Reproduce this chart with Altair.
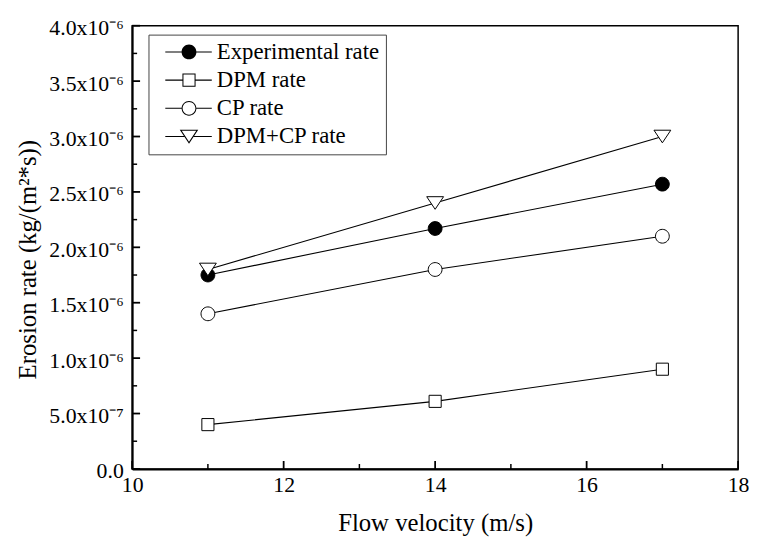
import altair as alt
import pandas as pd

# ---- data ----
velocity = [11, 14, 17]
series_names = ["Experimental rate", "DPM rate", "CP rate", "DPM+CP rate"]
experimental = [1.75e-6, 2.17e-6, 2.57e-6]
dpm = [0.40e-6, 0.61e-6, 0.90e-6]
cp = [1.40e-6, 1.80e-6, 2.10e-6]
dpm_cp = [1.80e-6, 2.40e-6, 3.00e-6]

x_major = [10, 12, 14, 16, 18]
x_minor = [11, 13, 15, 17]
y_major = [0, 5e-7, 1e-6, 1.5e-6, 2e-6, 2.5e-6, 3e-6, 3.5e-6, 4e-6]
y_minor = [2.5e-7, 7.5e-7, 1.25e-6, 1.75e-6, 2.25e-6, 2.75e-6, 3.25e-6, 3.75e-6]

FONT = "Liberation Serif"

rows = []
for name, vals in zip(series_names, [experimental, dpm, cp, dpm_cp]):
    for v, r in zip(velocity, vals):
        rows.append({"series": name, "velocity": v, "rate": r})
df = pd.DataFrame(rows)

# marker shapes (unit square -1..1, scaled by sqrt(size)/2)
plot_paths = [
    "M0.82,0A0.82,0.82,0,1,1,-0.82,0A0.82,0.82,0,1,1,0.82,0Z",
    "M-0.72,-0.72H0.72V0.72H-0.72Z",
    "M0.82,0A0.82,0.82,0,1,1,-0.82,0A0.82,0.82,0,1,1,0.82,0Z",
    "M-1,-0.75H1L0,0.75Z",
]
# legend symbols (filled outlines): line with marker in the middle
legend_paths = [
    "M-0.06,-0.06H1.94V0.06H-0.06Z M3.58,-0.06H5.47V0.06H3.58Z "
    "M3.64,0A0.88,0.88,0,1,1,1.88,0A0.88,0.88,0,1,1,3.64,0Z",
    "M-0.06,-0.06H1.98V0.06H-0.06Z M3.54,-0.06H5.47V0.06H3.54Z "
    "M1.98,-0.78H3.54V0.78H1.98Z M2.10,-0.66V0.66H3.42V-0.66Z",
    "M-0.06,-0.06H1.88V0.06H-0.06Z M3.64,-0.06H5.47V0.06H3.64Z "
    "M3.64,0A0.88,0.88,0,1,1,1.88,0A0.88,0.88,0,1,1,3.64,0Z "
    "M3.52,0A0.76,0.76,0,1,0,2.0,0A0.76,0.76,0,1,0,3.52,0Z",
    "M-0.06,-0.06H2.2V0.06H-0.06Z M3.32,-0.06H5.47V0.06H3.32Z "
    "M1.66,-0.81H3.86L2.76,0.86Z M1.90,-0.69L2.76,0.62L3.62,-0.69Z",
]
fills = ["black", "white", "white", "white"]
legend_fills = ["black", "black", "black", "black"]

x_scale = alt.Scale(domain=[10, 18], nice=False, zero=False)
y_scale = alt.Scale(domain=[0, 4e-6], nice=False, zero=True)

y_label_expr = (
    "datum.value == 0 ? '0.0' : (datum.value < 9e-7 ? "
    "format(datum.value * 1e7, '.1f') + 'x10\u207b\u2077' : "
    "format(datum.value * 1e6, '.1f') + 'x10\u207b\u2076')"
)

x_axis = alt.Axis(
    orient="bottom", values=x_major, ticks=False, tickSize=0, format="d",
    labelPadding=6, labelFont=FONT, labelFontSize=22, labelColor="black",
    labelFlush=False, labelOverlap=False,
    domainColor="black", domainWidth=2, grid=False,
    title="Flow velocity (m/s)", titleFont=FONT, titleFontSize=25,
    titleFontWeight="normal", titleColor="black", titlePadding=15,
)
y_axis = alt.Axis(
    orient="left", values=y_major, ticks=False, tickSize=0,
    labelExpr=y_label_expr, labelPadding=9, labelFont=FONT,
    labelFontSize=22, labelColor="black", labelOffset=2,
    labelFlush=False, labelOverlap=False,
    domainColor="black", domainWidth=2, grid=False,
    title="Erosion rate (kg/(m\u00b2*s))", titleFont=FONT, titleFontSize=25,
    titleFontWeight="normal", titleColor="black", titlePadding=9, titleY=236,
)

base = alt.Chart(df)

lines = base.mark_line(color="black", strokeWidth=1.1).encode(
    x=alt.X("velocity:Q", scale=x_scale, axis=x_axis),
    y=alt.Y("rate:Q", scale=y_scale, axis=y_axis),
    detail="series:N",
)

points = base.mark_point(
    filled=True, size=289, stroke="black", strokeWidth=1, opacity=1
).encode(
    x=alt.X("velocity:Q", scale=x_scale, axis=x_axis),
    y=alt.Y("rate:Q", scale=y_scale, axis=y_axis),
    shape=alt.Shape("series:N", scale=alt.Scale(domain=series_names, range=plot_paths), legend=None),
    fill=alt.Fill("series:N", scale=alt.Scale(domain=series_names, range=fills), legend=None),
)

# inward ticks, placed through the scales
xt_major = pd.DataFrame({"velocity": x_major})
xt_minor = pd.DataFrame({"velocity": x_minor})
yt_major = pd.DataFrame({"rate": y_major})
yt_minor = pd.DataFrame({"rate": y_minor})

def x_ticks(data, length, width):
    return alt.Chart(data).mark_tick(
        orient="vertical", size=length, thickness=width, yOffset=-length / 2,
        color="black", opacity=1,
    ).encode(
        x=alt.X("velocity:Q", scale=x_scale, axis=x_axis),
        y=alt.datum(0),
    )

def y_ticks(data, length, width):
    return alt.Chart(data).mark_tick(
        orient="horizontal", size=length, thickness=width, xOffset=length / 2,
        color="black", opacity=1,
    ).encode(
        y=alt.Y("rate:Q", scale=y_scale, axis=y_axis),
        x=alt.datum(10),
    )

legend = alt.Legend(
    title=None, orient="none", legendX=16.5, legendY=9,
    padding=6, rowPadding=4.5, strokeColor="#444", fillColor="white",
    labelFont=FONT, labelFontSize=23, labelColor="black", labelOffset=40,
    labelLimit=400, symbolSize=289, symbolStrokeWidth=0, cornerRadius=0,
)

# legend carrier: no rows drawn, legend entries come from the explicit domain
legend_layer = base.mark_point(
    filled=True, size=289, strokeWidth=0, opacity=1
).encode(
    shape=alt.Shape("series:N", scale=alt.Scale(domain=series_names, range=legend_paths), legend=legend),
    fill=alt.Fill("series:N", scale=alt.Scale(domain=series_names, range=legend_fills), legend=legend),
).transform_filter("false")

chart = (
    alt.layer(
        x_ticks(xt_minor, 5, 1.5), x_ticks(xt_major, 8, 1.8),
        y_ticks(yt_minor, 5, 1.5), y_ticks(yt_major, 8, 1.8),
        lines, points, legend_layer,
    )
    .resolve_scale(shape="independent", fill="independent")
    .properties(
        width=612.5, height=448,
        padding={"left": 125.5, "top": 15, "right": 11, "bottom": 75},
        autosize=alt.AutoSizeParams(type="none"),
        background="white",
    )
    .configure_view(stroke="black", strokeWidth=1.5)
)

chart.save("out.html", embed_options={"renderer": "svg", "actions": False})
